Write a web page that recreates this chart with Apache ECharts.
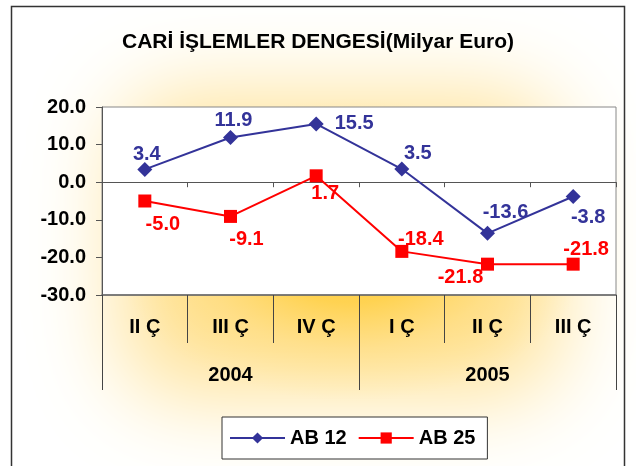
<!DOCTYPE html>
<html>
<head>
<meta charset="utf-8">
<script src="https://cdn.jsdelivr.net/npm/echarts@6/dist/echarts.min.js"></script>
<style>html,body{margin:0;padding:0;background:#fff}#c{width:636px;height:466px}</style>
</head>
<body>
<div id="c"></div>
<script>
var titleText = 'CARİ İŞLEMLER DENGESİ(Milyar Euro)';
var quarters = ['II Ç', 'III Ç', 'IV Ç', 'I Ç', 'II Ç', 'III Ç'];
var years = ['2004', '2005'];
var seriesNames = ['AB 12', 'AB 25'];
var ab12 = [3.4, 11.9, 15.5, 3.5, -13.6, -3.8];
var ab25 = [-5.0, -9.1, 1.7, -18.4, -21.8, -21.8];
var yTicks = [-30, -20, -10, 0, 10, 20];

// label offsets (styling only)
var off12 = [[2, -15], [3, -17], [38, 0], [16, -16], [18, -21], [15, 21]];
var off25 = [[18, 23], [16, 23], [9, 18], [19, -12], [-27, 13], [13, -15]];

var FONT = 'Liberation Sans, Arial, sans-serif';

function mkData(vals, offs) {
  return vals.map(function (v, i) {
    return { value: v, label: { offset: offs[i] } };
  });
}

var SHIFT = 3000;
var chart = echarts.init(document.getElementById('c'), null, { renderer: 'canvas' });
chart.setOption({
  animation: false,
  backgroundColor: '#ffffff',
  textStyle: { fontFamily: FONT },
  graphic: [
    {
      type: 'rect', z: -20, silent: true,
      shape: { x: 120 - SHIFT, y: 95, width: 440, height: 300, r: 60 },
      style: {
        fill: '#FFEDC0',
        shadowColor: 'rgba(255,226,150,1)',
        shadowBlur: 90,
        shadowOffsetX: SHIFT,
        shadowOffsetY: 0
      }
    },
    {
      type: 'circle', z: -10, silent: true,
      x: 350, y: 250, scaleX: 1.25, scaleY: 0.8,
      shape: { cx: 0, cy: 0, r: 190 },
      style: {
        fill: new echarts.graphic.RadialGradient(0.5, 0.5, 0.5, [
          { offset: 0, color: 'rgba(255,200,50,1)' },
          { offset: 0.35, color: 'rgba(255,208,70,0.85)' },
          { offset: 0.65, color: 'rgba(255,215,100,0.35)' },
          { offset: 1, color: 'rgba(255,225,130,0)' }
        ])
      }
    },
    {
      type: 'rect', z: 100, silent: true,
      shape: { x: 11.5, y: 6.5, width: 613, height: 480 },
      style: { fill: 'none', stroke: '#333333', lineWidth: 1.5 }
    }
  ],
  title: {
    text: titleText,
    left: 'center',
    top: 27,
    textStyle: { fontFamily: FONT, fontSize: 21, fontWeight: 'bold', color: '#000' }
  },
  legend: {
    data: seriesNames,
    left: 222,
    top: 417,
    padding: [11, 12, 11, 7],
    itemWidth: 55,
    itemHeight: 14,
    itemGap: 11,
    backgroundColor: '#ffffff',
    borderColor: '#333333',
    borderWidth: 1,
    textStyle: { fontFamily: FONT, fontSize: 20, fontWeight: 'bold', color: '#000' }
  },
  grid: {
    left: 102, right: 20, top: 107, bottom: 171,
    show: true, backgroundColor: '#ffffff', borderColor: '#888888', borderWidth: 1
  },
  xAxis: [
    {
      type: 'category', data: quarters, position: 'bottom',
      axisLine: { onZero: true, lineStyle: { color: '#555', width: 1 } },
      axisTick: { show: true, interval: 0, length: 5, lineStyle: { color: '#555' } },
      axisLabel: { show: false },
      splitLine: { show: false }
    },
    {
      type: 'category', data: quarters, position: 'bottom', offset: 0,
      axisLine: { onZero: false, show: true, lineStyle: { color: '#666', width: 1.5 } },
      axisTick: { show: true, interval: 0, length: 48, lineStyle: { color: '#444' } },
      axisLabel: { show: true, interval: 0, margin: 22, fontFamily: FONT, fontSize: 20, fontWeight: 'bold', color: '#000' },
      splitLine: { show: false }
    },
    {
      type: 'category', data: years, position: 'bottom', offset: 0,
      axisLine: { onZero: false, show: false },
      axisTick: { show: true, interval: 0, length: 95, lineStyle: { color: '#444' } },
      axisLabel: { show: true, interval: 0, margin: 70, fontFamily: FONT, fontSize: 20, fontWeight: 'bold', color: '#000' },
      splitLine: { show: false }
    }
  ],
  yAxis: {
    type: 'value',
    min: yTicks[0], max: yTicks[yTicks.length - 1], interval: 10,
    axisLine: { show: true, lineStyle: { color: '#555', width: 1 } },
    axisTick: { show: true, length: 6, lineStyle: { color: '#555' } },
    axisLabel: {
      margin: 16, fontFamily: FONT, fontSize: 20, fontWeight: 'bold', color: '#000',
      formatter: function (v) { return v.toFixed(1); }
    },
    splitLine: { show: false }
  },
  series: [
    {
      name: seriesNames[0], type: 'line', xAxisIndex: 0,
      data: mkData(ab12, off12),
      symbol: 'diamond', symbolSize: 15,
      itemStyle: { color: '#333399' },
      lineStyle: { color: '#333399', width: 2 },
      label: {
        show: true, position: 'inside', color: '#333399',
        fontFamily: FONT, fontSize: 20, fontWeight: 'bold',
        formatter: function (p) { return p.value.toFixed(1); }
      },
      z: 3
    },
    {
      name: seriesNames[1], type: 'line', xAxisIndex: 0,
      data: mkData(ab25, off25),
      symbol: 'rect', symbolSize: 13,
      itemStyle: { color: '#FF0000' },
      lineStyle: { color: '#FF0000', width: 2 },
      label: {
        show: true, position: 'inside', color: '#FF0000',
        fontFamily: FONT, fontSize: 20, fontWeight: 'bold',
        formatter: function (p) { return p.value.toFixed(1); }
      },
      z: 2
    }
  ]
});
</script>
</body>
</html>
